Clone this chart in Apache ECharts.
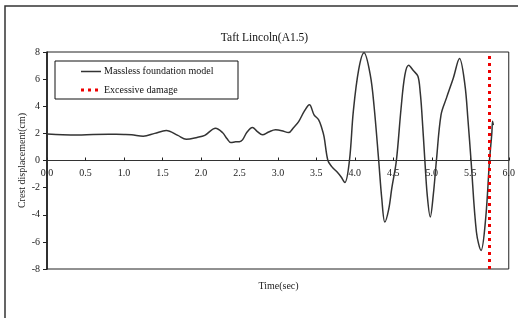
<!DOCTYPE html>
<html>
<head>
<meta charset="utf-8">
<script src="https://cdn.jsdelivr.net/npm/echarts@6/dist/echarts.min.js"></script>
<style>html,body{margin:0;padding:0;background:#fff;}#c{width:518px;height:318px;}</style>
</head>
<body>
<div id="c"></div>
<script>
var chartTitle = 'Taft Lincoln(A1.5)';
var xTitle = 'Time(sec)';
var yTitle = 'Crest displacement(cm)';
var seriesNames = ['Massless foundation model', 'Excessive damage'];
var timeValues = [0.00,0.20,0.40,0.60,0.80,1.00,1.10,1.25,1.40,1.55,1.70,1.81,1.95,2.05,2.19,2.28,2.34,2.39,2.45,2.50,2.54,2.60,2.67,2.73,2.80,2.88,2.97,3.05,3.14,3.20,3.27,3.34,3.41,3.47,3.53,3.57,3.60,3.65,3.70,3.77,3.82,3.87,3.93,3.98,4.05,4.12,4.20,4.25,4.31,4.35,4.39,4.44,4.48,4.54,4.60,4.65,4.70,4.76,4.82,4.85,4.87,4.91,4.94,4.98,5.02,5.06,5.12,5.19,5.28,5.36,5.43,5.47,5.51,5.58,5.64,5.70,5.75,5.78,5.79,5.80];
var dispValues = [1.95,1.90,1.88,1.92,1.93,1.92,1.90,1.79,2.00,2.21,1.85,1.57,1.70,1.85,2.38,2.06,1.60,1.32,1.38,1.39,1.52,2.10,2.43,2.15,1.89,2.10,2.26,2.20,2.06,2.40,2.87,3.60,4.11,3.37,3.00,2.40,1.76,0.00,-0.45,-0.85,-1.20,-1.62,0.00,3.60,6.70,7.94,6.33,4.00,0.00,-2.80,-4.53,-3.60,-2.06,0.00,3.80,6.30,7.02,6.63,6.21,5.00,3.60,0.00,-2.50,-4.16,-2.50,0.00,3.37,4.60,6.09,7.52,5.60,3.00,0.00,-5.27,-6.63,-4.28,0.00,2.00,2.90,2.60];
var damageTime = 5.75;
var damageRange = [-8, 8];
var xMin = 0, xMax = 6, xStep = 0.5;
var yMin = -8, yMax = 8, yStep = 2;

var font = '"Liberation Serif", "Times New Roman", serif';
var lineColor = '#333';
var damageColor = '#ee0000';
var damageDash = [3, 4];
var mainData = timeValues.map(function (t, i) { return [t, dispValues[i]]; });
var damageData = damageRange.map(function (v) { return [damageTime, v]; });

var chart = echarts.init(document.getElementById('c'), null, {renderer: 'canvas'});
chart.setOption({
  animation: false,
  backgroundColor: '#fff',
  textStyle: {fontFamily: font},
  grid: {left: 47, right: 8, top: 52, bottom: 49, show: true, borderColor: '#222', borderWidth: 1, containLabel: false},
  xAxis: {
    type: 'value', min: xMin, max: xMax, interval: xStep,
    axisLine: {onZero: true, lineStyle: {color: '#333', width: 1}},
    axisTick: {inside: true, length: 3, lineStyle: {color: '#222'}},
    axisLabel: {fontFamily: font, fontSize: 10, color: '#222', margin: -101,
      formatter: function (v) { return v.toFixed(1); }},
    splitLine: {show: false}
  },
  yAxis: {
    type: 'value', min: yMin, max: yMax, interval: yStep,
    axisLine: {show: true, onZero: false, lineStyle: {color: '#111', width: 1.5}},
    axisTick: {show: true, inside: false, length: 4, lineStyle: {color: '#222'}},
    axisLabel: {fontFamily: font, fontSize: 10, color: '#222', margin: 7},
    splitLine: {show: false}
  },
  graphic: [
    {type: 'rect', shape: {x: 5, y: 6, width: 530, height: 340}, style: {fill: null, stroke: '#333', lineWidth: 1.5}, silent: true},
    {type: 'text', x: 264.5, y: 38, style: {text: chartTitle, font: '11.5px ' + font, fill: '#111', textAlign: 'center', textVerticalAlign: 'middle'}},
    {type: 'text', x: 278.5, y: 286, style: {text: xTitle, font: '10px ' + font, fill: '#222', textAlign: 'center', textVerticalAlign: 'middle'}},
    {type: 'text', x: 22, y: 160.5, rotation: Math.PI / 2, style: {text: yTitle, font: '10px ' + font, fill: '#222', textAlign: 'center', textVerticalAlign: 'middle'}},
    {type: 'rect', z: 10, shape: {x: 55, y: 61, width: 183, height: 38}, style: {fill: '#fff', stroke: '#111', lineWidth: 1}},
    {type: 'line', z: 11, shape: {x1: 81, y1: 71.5, x2: 101, y2: 71.5}, style: {stroke: lineColor, lineWidth: 1.5}},
    {type: 'text', z: 11, x: 104, y: 71.5, style: {text: seriesNames[0], font: '10px ' + font, fill: '#111', textAlign: 'left', textVerticalAlign: 'middle'}},
    {type: 'line', z: 11, shape: {x1: 81, y1: 90, x2: 102, y2: 90}, style: {stroke: damageColor, lineWidth: 3, lineDash: damageDash}},
    {type: 'text', z: 11, x: 104, y: 90, style: {text: seriesNames[1], font: '10px ' + font, fill: '#111', textAlign: 'left', textVerticalAlign: 'middle'}}
  ],
  series: [
    {
      name: seriesNames[0], type: 'line', data: mainData, smooth: 0.35,
      symbol: 'none', lineStyle: {color: lineColor, width: 1.5}, itemStyle: {color: lineColor}, z: 3
    },
    {
      name: seriesNames[1], type: 'line', data: damageData,
      symbol: 'none', lineStyle: {color: damageColor, width: 3, type: damageDash}, itemStyle: {color: damageColor}, z: 4
    }
  ]
});
</script>
</body>
</html>
